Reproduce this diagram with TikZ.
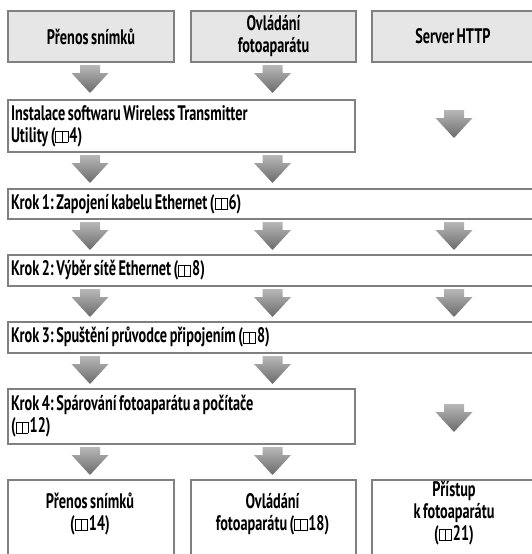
\documentclass[tikz,border=0pt]{standalone}
\usepackage{fontspec}
\setmainfont[FakeStretch=0.68, WordSpace=0.7]{PT Sans}
\frenchspacing
\definecolor{boxline}{HTML}{808080}
\definecolor{boxfill}{HTML}{E6E6E6}
\definecolor{arrtop}{HTML}{B8B8B8}
\definecolor{arrbot}{HTML}{6A6A6A}
\newcommand{\bookic}{\raisebox{0pt}{\setlength{\fboxsep}{0pt}\setlength{\fboxrule}{0.6pt}\fbox{\rule{0pt}{10.5pt}\hspace{5.5pt}}\kern-0.6pt\fbox{\rule{0pt}{10.5pt}\hspace{5.5pt}}}\kern1.2pt}
\newcommand{\natsp}{\spaceskip=0pt\xspaceskip=0pt\relax}
\tikzset{
  basebox/.style={draw=boxline, line width=2pt, font=\fontsize{21}{22}\selectfont\bfseries\frenchspacing, inner sep=0pt, anchor=north west},
  headbox/.style={basebox, fill=boxfill, align=center, minimum height=51pt},
  stepbox/.style={basebox, align=left, inner xsep=3pt, text width=#1},
  tailbox/.style={basebox, minimum height=90pt},
  tailtext/.style={font=\fontsize{21}{22}\selectfont\bfseries\frenchspacing, align=center, inner sep=0pt},
  downarrow/.pic={\shade[top color=arrtop, bottom color=arrbot] (-10,0) -- (10,0) -- (10,-8) -- (18.5,-8) -- (0,-28) -- (-18.5,-8) -- (-10,-8) -- cycle;}
}
\begin{document}
\begin{tikzpicture}[x=1pt,y=1pt]
\useasboundingbox (0,0) rectangle (532,-554);
\clip (0,0) rectangle (532,-554);
% head boxes
\node[headbox, minimum width=166pt] (h1) at (7,-10) {Přenos snímků};
\node[headbox, minimum width=165pt] (h2) at (190,-10) {Ovládání\\fotoaparátu};
\node[headbox, minimum width=166pt] (h3) at (371,-10) {\hspace*{-4pt}Server HTTP};
% arrows row 1
\pic (a11) at (90,-65) {downarrow};
\pic (a12) at (272.5,-65) {downarrow};
\pic (a13) at (454,-110) {downarrow};
% Instalace
\node[stepbox=341pt, minimum height=52pt] (s0) at (7,-99) {\natsp Instalace softwaru Wireless Transmitter\\Utility (\bookic 4)};
\pic (a21) at (90,-155) {downarrow};
\pic (a22) at (272.5,-155) {downarrow};
% Krok 1
\node[stepbox=527pt, minimum height=30pt] (s1) at (7,-188) {\natsp Krok 1: Zapojení kabelu Ethernet (\bookic 6)};
\pic (a31) at (90,-222) {downarrow};
\pic (a32) at (272.5,-222) {downarrow};
\pic (a33) at (454,-222) {downarrow};
% Krok 2
\node[stepbox=527pt, minimum height=31pt] (s2) at (7,-254) {\natsp Krok 2: Výběr sítě Ethernet (\bookic 8)};
\pic (a41) at (90,-289) {downarrow};
\pic (a42) at (272.5,-289) {downarrow};
\pic (a43) at (454,-289) {downarrow};
% Krok 3
\node[stepbox=527pt, minimum height=31pt] (s3) at (7,-321) {\natsp Krok 3: Spuštění průvodce připojením (\bookic 8)};
\pic (a51) at (90,-356) {downarrow};
\pic (a52) at (272.5,-356) {downarrow};
\pic (a53) at (454,-404) {downarrow};
% Krok 4
\node[stepbox=341pt, minimum height=55pt] (s4) at (7,-388) {\natsp Krok 4: Spárování fotoaparátu a počítače\\(\bookic 12)};
\pic (a61) at (90,-447) {downarrow};
\pic (a62) at (272.5,-447) {downarrow};
% tail boxes
\node[tailbox, minimum width=166pt] (t1) at (7,-479) {};
\node[tailbox, minimum width=165pt] (t2) at (190,-479) {};
\node[tailbox, minimum width=166pt] (t3) at (371,-479) {};
\node[tailtext] (t1t) at (90,-514) {Přenos snímků\\(\bookic 14)};
\node[tailtext] (t2t) at (272.5,-514) {Ovládání\\fotoaparátu (\bookic 18)};
\node[tailtext] (t3t) at (454,-513) {Přístup\\k fotoaparátu\\(\bookic 21)};
\end{tikzpicture}
\end{document}
